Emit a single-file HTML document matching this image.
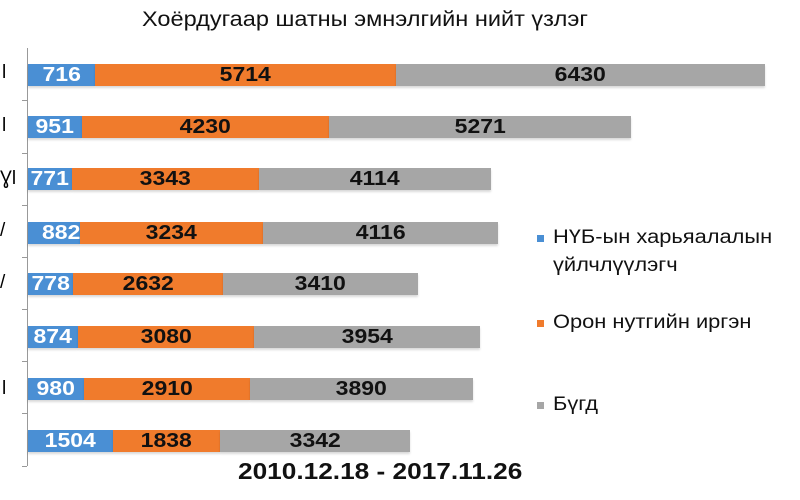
<!DOCTYPE html>
<html><head><meta charset="utf-8"><style>
body{margin:0;width:800px;height:500px;background:#fff;position:relative;overflow:hidden;font-family:"Liberation Sans",sans-serif}
.a{position:absolute}
.s{position:absolute;height:22px;line-height:22px;font-weight:bold;font-size:20px;text-align:center;box-shadow:0 2px 2px rgba(0,0,0,0.15)}
.s span{display:inline-block;transform:scaleX(1.15)}
.b{background:#4a8fd4;color:#fff}
.o{background:#f07b2c;color:#111}
.g{background:#a6a6a6;color:#111}
.t{position:absolute;left:22px;width:5px;height:1px;background:#999}
.lg{position:absolute;font-size:19px;color:#111;line-height:28px;transform:scaleX(1.15);transform-origin:left}
.sq{position:absolute;width:7px;height:7px}
</style></head><body>
<div class="a" style="left:142px;top:8px;font-size:21px;color:#111;transform:scaleX(1.12);transform-origin:left">Хоёрдугаар шатны эмнэлгийн нийт үзлэг</div>
<div class="a" style="left:27px;top:48px;width:1px;height:418px;background:#999"></div>
<div class="t" style="top:100px"></div><div class="t" style="top:153px"></div><div class="t" style="top:205px"></div><div class="t" style="top:257px"></div><div class="t" style="top:309px"></div><div class="t" style="top:361px"></div><div class="t" style="top:413px"></div><div class="t" style="top:466px"></div>
<div class="a" style="left:2px;top:62px;font-size:19px">l</div>
<div class="a" style="left:2px;top:115px;font-size:19px">l</div>
<div class="a" style="left:0px;top:168px;font-size:19px">Ɣl</div>
<div class="a" style="left:0px;top:220px;font-size:19px">/</div>
<div class="a" style="left:0px;top:272px;font-size:19px">/</div>
<div class="a" style="left:2px;top:378px;font-size:19px">l</div>

<div class="s b" style="left:28px;top:64px;width:67px"><span>716</span></div><div class="s o" style="left:95px;top:64px;width:301px"><span>5714</span></div><div class="s g" style="left:396px;top:64px;width:369px"><span>6430</span></div>
<div class="s b" style="left:28px;top:116px;width:54px"><span>951</span></div><div class="s o" style="left:82px;top:116px;width:247px"><span>4230</span></div><div class="s g" style="left:329px;top:116px;width:302px"><span>5271</span></div>
<div class="s b" style="left:28px;top:168px;width:44px"><span>771</span></div><div class="s o" style="left:72px;top:168px;width:187px"><span>3343</span></div><div class="s g" style="left:259px;top:168px;width:232px"><span>4114</span></div>
<div class="s b" style="left:28px;top:222px;width:52px;text-align:right"><span style="transform-origin:right">882</span></div><div class="s o" style="left:80px;top:222px;width:183px"><span>3234</span></div><div class="s g" style="left:263px;top:222px;width:235px"><span>4116</span></div>
<div class="s b" style="left:28px;top:273px;width:45px"><span>778</span></div><div class="s o" style="left:73px;top:273px;width:150px"><span>2632</span></div><div class="s g" style="left:223px;top:273px;width:195px"><span>3410</span></div>
<div class="s b" style="left:28px;top:326px;width:50px"><span>874</span></div><div class="s o" style="left:78px;top:326px;width:176px"><span>3080</span></div><div class="s g" style="left:254px;top:326px;width:226px"><span>3954</span></div>
<div class="s b" style="left:28px;top:378px;width:56px"><span>980</span></div><div class="s o" style="left:84px;top:378px;width:166px"><span>2910</span></div><div class="s g" style="left:250px;top:378px;width:223px"><span>3890</span></div>
<div class="s b" style="left:28px;top:430px;width:85px"><span>1504</span></div><div class="s o" style="left:113px;top:430px;width:107px"><span>1838</span></div><div class="s g" style="left:220px;top:430px;width:190px"><span>3342</span></div>

<div class="a" style="left:238px;top:458px;font-size:23px;font-weight:bold;color:#111;transform:scaleX(1.14);transform-origin:left">2010.12.18 - 2017.11.26</div>

<div class="sq" style="left:537px;top:235px;background:#4a8fd4"></div>
<div class="lg" style="left:553px;top:224px">НҮБ-ын харьяалалын<br>үйлчлүүлэгч</div>
<div class="sq" style="left:537px;top:320px;background:#f07b2c"></div>
<div class="lg" style="left:553px;top:309px">Орон нутгийн иргэн</div>
<div class="sq" style="left:537px;top:402px;background:#a6a6a6"></div>
<div class="lg" style="left:553px;top:391px">Бүгд</div>
</body></html>
